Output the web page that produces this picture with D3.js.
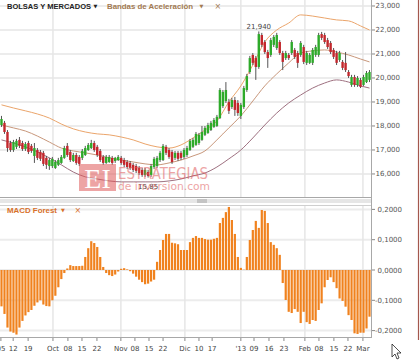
<!DOCTYPE html>
<html><head><meta charset="utf-8">
<script src="https://cdn.jsdelivr.net/npm/d3@7"></script>
<style>html,body{margin:0;padding:0;background:#fff;overflow:hidden}svg{display:block;font-family:"DejaVu Sans",Verdana,sans-serif}</style>
</head><body><svg id="c" width="420" height="361"></svg>
<script>
// ---- data ----
const opens  = [18040,18130,17750,17290,17000,17130,17420,17290,17040,17290,17170,16750,17000,16920,16880,16670,16330,16330,16250,16380,16460,16670,17170,16920,16540,16790,16710,16670,16790,17000,17080,17290,17130,16960,16710,16460,16500,16670,16540,16580,16670,16580,16500,16460,16380,16330,16250,16170,15960,16080,15960,16290,16330,16580,16580,17130,17000,16920,16670,16880,16880,16710,16790,17000,17130,17210,17290,17420,17630,17710,17830,17960,18000,18330,18830,19040,19000,18790,19080,18960,18420,18790,19500,20250,20960,20830,20460,21790,21500,21080,20960,21380,21250,21500,21040,20830,20960,21040,21170,21040,20960,21290,20630,20630,20630,20960,20960,21830,21790,21580,21460,21170,21040,20750,20670,20630,20250,19710,20040,19710,19920,19710,19830,19920];
const highs  = [18420,18210,17830,17380,17420,17460,17540,17380,17330,17380,17250,17290,17080,17000,16960,16750,16670,16710,16580,16670,16790,17170,17290,17000,16880,16880,16790,17040,17170,17290,17420,17380,17210,17040,16790,16790,16790,16750,16710,16790,16750,16670,16580,16540,16460,16420,16330,16250,16250,16170,16420,16710,16750,16960,17250,17210,17080,17000,16960,16960,16960,17080,17170,17460,17500,17750,17710,18000,18000,18130,18210,18330,18460,19580,19500,19830,19130,19170,19210,19080,18960,19670,20170,20920,21040,20920,21940,21880,21580,21170,21670,21790,21880,21580,21130,21130,21040,21580,21250,21130,21540,21380,21130,21040,21250,21380,21880,21920,21880,21670,21540,21250,21130,21130,20750,21080,20330,20130,20130,20080,20000,20130,20290,20330];
const lows   = [17960,17670,16920,16920,16920,17040,17080,16960,16960,16830,16880,16460,16580,16540,16330,16210,16170,16250,16210,16330,16420,16630,16710,16500,16500,16380,16330,16580,16750,16960,17040,16920,16710,16500,16380,16420,16460,16380,16460,16540,16380,16290,16210,16170,16080,16040,15960,15880,15880,15850,15880,16210,16250,16500,16540,16790,16630,16420,16580,16540,16580,16630,16710,16960,17080,17170,17210,17380,17580,17670,17790,17920,17960,18290,18750,18960,18500,18710,18420,18420,18290,18710,19420,20170,20540,19920,20380,21290,21000,20420,20880,21290,21170,20960,20330,20750,20750,20960,20790,20420,20880,20580,20540,20580,20540,20880,20880,21580,21420,21210,21000,20790,20540,20670,20330,20250,20000,19630,19630,19630,19580,19670,19790,19830];
const closes = [18290,17750,17080,17000,17330,17380,17170,17040,17250,16920,16960,17080,16670,16630,16420,16380,16580,16630,16500,16580,16710,17080,16790,16580,16790,16460,16420,16960,17080,17210,17290,17000,16790,16580,16460,16710,16710,16460,16670,16710,16460,16380,16290,16250,16170,16130,16040,15960,16170,15920,16330,16630,16670,16880,17170,16880,16710,16500,16880,16630,16670,17000,17080,17380,17420,17670,17630,17750,17920,18040,18130,18250,18380,19500,19420,19500,18630,19080,18670,18540,18880,19580,20080,20830,20630,20460,21830,21380,21080,20830,21580,21710,21790,21040,20670,21040,20830,21500,20880,20630,21460,20670,21040,20960,21170,21290,21790,21670,21500,21290,21080,20880,20630,21040,20420,20330,20080,20040,19710,20000,19630,20040,20210,20250];
// Bandas de Aceleración, one value every 4 sessions (last = final session)
const bandUpper  = [18880,18750,18630,18500,18330,18080,17880,17750,17670,17630,17540,17420,17250,17130,17080,17210,17500,17830,18210,19000,19670,20540,21500,22000,22290,22630,22580,22500,22420,22380,22170,22000];
const bandMiddle = [18040,17920,17790,17580,17330,17080,16960,16880,16790,16670,16580,16500,16420,16380,16460,16580,16750,16960,17420,17920,18420,19040,19670,20170,20630,21040,21130,21170,21080,20960,20790,20670];
const bandLower  = [17420,17290,17130,16920,16670,16380,16080,15880,15790,15710,15670,15670,15670,15670,15710,15790,15920,16040,16290,16630,17000,17500,18040,18540,18960,19290,19580,19790,19920,19830,19670,19580];
// MACD Forest histogram
const macd = [-0.120,-0.145,-0.190,-0.203,-0.207,-0.213,-0.190,-0.168,-0.150,-0.139,-0.132,-0.118,-0.107,-0.100,-0.114,-0.119,-0.120,-0.100,-0.085,-0.057,-0.030,-0.010,0.005,0.016,0.013,0.013,0.013,0.014,0.043,0.072,0.095,0.089,0.076,0.043,0.010,-0.010,-0.017,-0.020,-0.015,-0.005,0.004,0.006,0.002,-0.004,-0.012,-0.022,-0.032,-0.040,-0.047,-0.045,-0.038,-0.032,0.027,0.066,0.099,0.119,0.119,0.090,0.088,0.085,0.066,0.066,0.066,0.092,0.106,0.112,0.106,0.106,0.102,0.100,0.100,0.103,0.106,0.155,0.172,0.191,0.208,0.165,0.119,0.043,0.007,0.001,0.043,0.099,0.132,0.162,0.139,0.198,0.195,0.155,0.092,0.083,0.072,0.050,-0.043,-0.099,-0.138,-0.142,-0.129,-0.138,-0.175,-0.138,-0.172,-0.178,-0.165,-0.168,-0.132,-0.110,-0.057,-0.033,-0.024,-0.040,-0.060,-0.094,-0.102,-0.121,-0.149,-0.165,-0.209,-0.211,-0.207,-0.207,-0.193,-0.154];
// date axis
const tickLabels = ["05","12","19","Oct","08","15","22","Nov","08","15","22","Dic","10","17","'13","09","16","23","Feb","08","15","22","Mar"];
const tickPos    = [-0.2,3.9,8.9,17.2,22.2,26.9,31.9,39.9,44.6,49.3,54.0,61.3,66.0,70.4,80.0,84.4,89.4,94.4,101.4,106.1,111.1,115.8,120.8];
const monthTicks = ["Oct","Nov","Dic","'13","Feb","Mar"];
const priceTicks = [16000,17000,18000,19000,20000,21000,22000,23000];
const macdTicks  = [-0.2,-0.1,0,0.1,0.2];
const maxLabel = "21,940", minLabel = "15,85";

// ---- drawing ----
const svg = d3.select("#c");
const W = 371;
const n = closes.length;
const x = d3.scaleLinear().domain([0, n]).range([0, W]);
const yP = d3.scaleLinear().domain([15040, 23250]).range([197, 0]);
const yM = d3.scaleLinear().domain([-0.2211, 0.2145]).range([337, 205]);
const cx = i => x(i + 0.5);
const fmtP = d3.format(",");
const fmtM = v => d3.format(".4f")(v).replace(".", ",").replace("−","-");

const grid = svg.append("g");
grid.selectAll(".hp").data(priceTicks).join("line")
  .attr("x1",0).attr("x2",W).attr("y1",d=>yP(d)).attr("y2",d=>yP(d))
  .attr("stroke","#ececec").attr("stroke-width",2);
grid.selectAll(".hm").data(macdTicks).join("line")
  .attr("x1",0).attr("x2",W).attr("y1",d=>yM(d)).attr("y2",d=>yM(d))
  .attr("stroke","#ececec").attr("stroke-width",2);
const monthPos = tickPos.filter((p,i)=>monthTicks.includes(tickLabels[i]));
monthPos.forEach(p=>{
  [[0,197],[205,337]].forEach(([a,b])=>{
    grid.append("line").attr("x1",cx(p)).attr("x2",cx(p)).attr("y1",a).attr("y2",b)
      .attr("stroke","#e6e6e6").attr("stroke-width",1.5);
  });
});

// bands
const bandIdx = i => Math.min(i*4, n-1);
const lineGen = d3.line().x((d,i)=>cx(bandIdx(i))).y(d=>yP(d)).curve(d3.curveMonotoneX);
[[bandUpper,"#eba56b"],[bandMiddle,"#c8977b"],[bandLower,"#9e7080"]].forEach(([arr,col])=>{
  svg.append("path").attr("d",lineGen(arr)).attr("fill","none").attr("stroke",col).attr("stroke-width",1);
});

// candles
const cg = svg.append("g");
d3.range(n).forEach(i=>{
  const up = closes[i] >= opens[i];
  const col = up ? "#2eaa2a" : "#c3272c";
  cg.append("line").attr("x1",cx(i)).attr("x2",cx(i)).attr("y1",yP(highs[i])).attr("y2",yP(lows[i]))
    .attr("stroke","#555").attr("stroke-width",1);
  const t = yP(Math.max(opens[i],closes[i])), b = yP(Math.min(opens[i],closes[i]));
  cg.append("rect").attr("x",cx(i)-1.2).attr("width",2.4).attr("y",t).attr("height",Math.max(1,b-t)).attr("fill",col);
});

// MACD bars
svg.append("g").selectAll("rect").data(macd).join("rect")
  .attr("x",(d,i)=>cx(i)-1.1).attr("width",2.2)
  .attr("y",d=>yM(Math.max(0,d))).attr("height",d=>Math.abs(yM(d)-yM(0)))
  .attr("fill","#f0821e");

// max / min labels
svg.append("text").attr("x",cx(86)).attr("y",yP(21940)-2).attr("text-anchor","middle")
  .attr("font-size",7).attr("fill","#444").text(maxLabel);
svg.append("text").attr("x",cx(49)).attr("y",yP(15850)+11.5).attr("text-anchor","middle")
  .attr("font-size",7).attr("fill","#444").text(minLabel);

// watermark
const wm = svg.append("g").attr("opacity",0.55);
wm.append("rect").attr("x",79).attr("y",164).attr("width",37).attr("height",27).attr("fill","#e05a5a");
wm.append("text").attr("x",97.5).attr("y",188).attr("text-anchor","middle").attr("font-family","Liberation Serif, serif")
  .attr("font-size",28).attr("fill","#fff").text("EI");
wm.append("text").attr("x",118).attr("y",179).attr("font-size",15).attr("fill","#e05a5a")
  .attr("textLength",90).attr("lengthAdjust","spacingAndGlyphs").text("ESTRATEGIAS");
wm.append("text").attr("x",118).attr("y",190).attr("font-size",11).attr("fill","#e05a5a")
  .attr("textLength",92).attr("lengthAdjust","spacingAndGlyphs").text("de inversion.com");

// frames / axes
svg.append("line").attr("x1",0).attr("x2",W).attr("y1",197.5).attr("y2",197.5).attr("stroke","#a8a8a8");
svg.append("rect").attr("x",0).attr("y",199).attr("width",W).attr("height",4).attr("fill","#e6e6e6");
svg.append("rect").attr("x",197).attr("y",199).attr("width",10).attr("height",4).attr("fill","#c4c4c4");
svg.append("line").attr("x1",0).attr("x2",W).attr("y1",205.5).attr("y2",205.5).attr("stroke","#cfcfcf");
svg.append("line").attr("x1",0).attr("x2",W).attr("y1",337.5).attr("y2",337.5).attr("stroke","#a8a8a8");
svg.append("line").attr("x1",W+0.5).attr("x2",W+0.5).attr("y1",0).attr("y2",338).attr("stroke","#a8a8a8");

// right axes labels
const rp = svg.append("g").attr("font-size",7).attr("fill","#555");
priceTicks.forEach(v=>{
  rp.append("line").attr("x1",W+1).attr("x2",W+4).attr("y1",yP(v)).attr("y2",yP(v)).attr("stroke","#888");
  rp.append("text").attr("x",400).attr("y",yP(v)+2.5).attr("text-anchor","end").text(fmtP(v));
});
macdTicks.forEach(v=>{
  rp.append("line").attr("x1",W+1).attr("x2",W+4).attr("y1",yM(v)).attr("y2",yM(v)).attr("stroke","#888");
  rp.append("text").attr("x",402).attr("y",yM(v)+2.5).attr("text-anchor","end").text(fmtM(v));
});

// bottom date axis
const xa = svg.append("g").attr("font-size",7).attr("fill","#444");
tickPos.forEach((p,i)=>{
  xa.append("line").attr("x1",cx(p)).attr("x2",cx(p)).attr("y1",338).attr("y2",341).attr("stroke","#888");
  xa.append("text").attr("x",cx(p)).attr("y",351).attr("text-anchor","middle").text(tickLabels[i]);
});

// headers
const hf = "Liberation Sans, Arial, sans-serif";
svg.append("text").attr("x",7).attr("y",8.5).attr("font-family",hf).attr("font-size",7.5).attr("font-weight","bold").attr("fill","#222")
  .attr("textLength",84).attr("lengthAdjust","spacingAndGlyphs").text("BOLSAS Y MERCADOS");
svg.append("text").attr("x",93.5).attr("y",8).attr("font-size",5).attr("fill","#222").text("▼");
svg.append("text").attr("x",107).attr("y",8.5).attr("font-family",hf).attr("font-size",7.8).attr("font-weight","bold").attr("fill","#a27a52")
  .attr("textLength",86).attr("lengthAdjust","spacingAndGlyphs").text("Bandas de Aceleración");
svg.append("text").attr("x",199.5).attr("y",8).attr("font-size",5).attr("fill","#a27a52").text("▼");
svg.append("text").attr("x",214.5).attr("y",9).attr("font-size",8).attr("fill","#a27a52").text("×");
svg.append("text").attr("x",7).attr("y",212.5).attr("font-family",hf).attr("font-size",7.8).attr("font-weight","bold").attr("fill","#d8702a")
  .attr("textLength",50).attr("lengthAdjust","spacingAndGlyphs").text("MACD Forest");
svg.append("text").attr("x",61).attr("y",212).attr("font-size",5).attr("fill","#d8702a").text("▼");
svg.append("text").attr("x",74.5).attr("y",213).attr("font-size",8).attr("fill","#d8702a").text("×");

// right border
svg.append("line").attr("x1",418.5).attr("x2",418.5).attr("y1",0).attr("y2",340).attr("stroke","#a4584e").attr("stroke-width",1.2);
// mouse cursor
svg.append("path").attr("d","M392,344 L392,357 L395,354 L397,359 L399,358 L397,353 L401,353 Z")
  .attr("fill","#fff").attr("stroke","#222").attr("stroke-width",0.8);
</script></body></html>
